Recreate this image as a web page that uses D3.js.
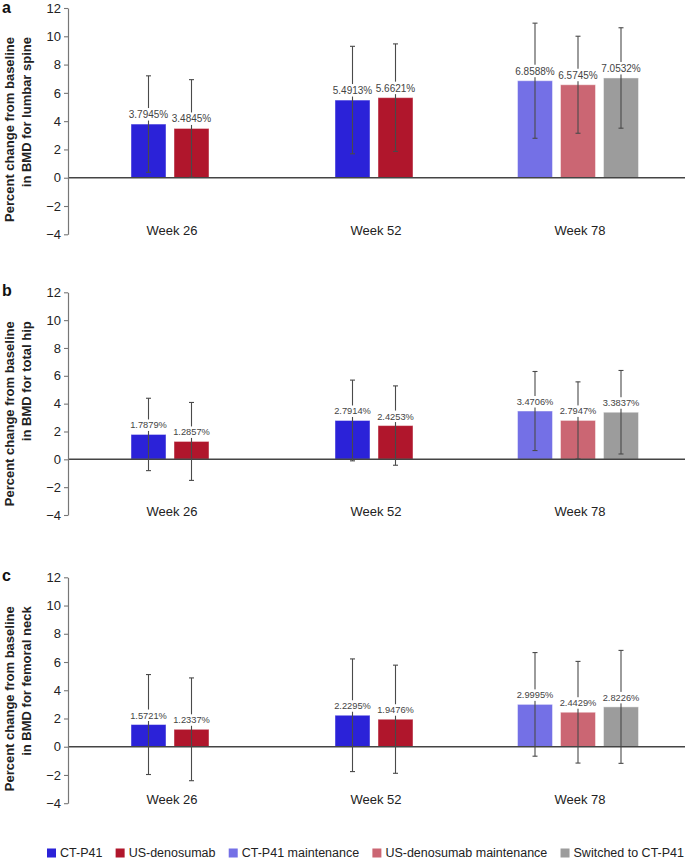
<!DOCTYPE html>
<html><head><meta charset="utf-8">
<script src="https://cdn.jsdelivr.net/npm/d3@7"></script>
<style>
html,body{margin:0;padding:0;background:#fff;}
svg{display:block;font-family:"Liberation Sans",Arial,sans-serif;}
</style></head>
<body>
<svg id="chart" width="685" height="859"></svg>
<script>
const weeks = ["Week 26", "Week 52", "Week 78"];
const seriesNames = ["CT-P41", "US-denosumab", "CT-P41 maintenance", "US-denosumab maintenance", "Switched to CT-P41"];
const seriesColors = ["#2b22d8", "#b0162c", "#7470e6", "#cb6673", "#9c9c9c"];
const barWeek = ["Week 26", "Week 26", "Week 52", "Week 52", "Week 78", "Week 78", "Week 78"];
const barSeries = [0, 1, 0, 1, 2, 3, 4];
const lumbarMean = [3.7945, 3.4845, 5.4913, 5.6621, 6.8588, 6.5745, 7.0532];
const lumbarSD = [3.41, 3.45, 3.80, 3.80, 4.07, 3.43, 3.55];
const hipMean = [1.7879, 1.2857, 2.7914, 2.4253, 3.4706, 2.7947, 3.3837];
const hipSD = [2.60, 2.80, 2.90, 2.85, 2.84, 2.77, 3.00];
const neckMean = [1.5721, 1.2337, 2.2295, 1.9476, 2.9995, 2.4429, 2.8226];
const neckSD = [3.54, 3.64, 3.99, 3.83, 3.67, 3.60, 4.00];
const yTicks = [-4, -2, 0, 2, 4, 6, 8, 10, 12];
const panelLetters = ["a", "b", "c"];
const titleLine1 = "Percent change from baseline";
const titleLine2 = ["in BMD for lumbar spine", "in BMD for total hip", "in BMD for femoral neck"];

const panels = [
  {mean: lumbarMean, sd: lumbarSD, top: 8, bottom: 234.3, labelSize: 10},
  {mean: hipMean, sd: hipSD, top: 292.3, bottom: 515, labelSize: 9.3},
  {mean: neckMean, sd: neckSD, top: 577.3, bottom: 803.2, labelSize: 9.3}
];

const svg = d3.select("#chart");
const axisX = 68, rightX = 682;
const x = d3.scaleBand().domain(weeks).range([70, rightX]);
const barW = 35, barStep = 43;

panels.forEach((p, pi) => {
  const y = d3.scaleLinear().domain([-4, 12]).range([p.bottom, p.top]);
  const g = svg.append("g");

  const bars = p.mean.map((m, i) => {
    const wk = barWeek[i];
    const idxs = barWeek.map((w, j) => w === wk ? j : -1).filter(j => j >= 0);
    const k = idxs.indexOf(i), n = idxs.length;
    const cx = x(wk) + x.bandwidth() / 2 - 2 + (k - (n - 1) / 2) * barStep;
    return {m, sd: p.sd[i], cx, s: barSeries[i]};
  });

  g.selectAll("rect.bar").data(bars).join("rect")
    .attr("class", "bar")
    .attr("x", d => d.cx - barW / 2)
    .attr("width", barW)
    .attr("y", d => y(Math.max(0, d.m)))
    .attr("height", d => Math.abs(y(d.m) - y(0)))
    .attr("fill", d => seriesColors[d.s])
    .attr("stroke", "#ffffff").attr("stroke-opacity", 0.45).attr("stroke-width", 1);

  g.append("line").attr("x1", axisX).attr("x2", rightX + 3)
    .attr("y1", y(0)).attr("y2", y(0))
    .attr("stroke", "#444").attr("stroke-width", 1.5);

  const eb = g.selectAll("g.eb").data(bars).join("g").attr("class", "eb")
    .attr("stroke", "#4a4a4a").attr("stroke-width", 1.1);
  eb.append("line").attr("x1", d => d.cx).attr("x2", d => d.cx)
    .attr("y1", d => y(d.m + d.sd)).attr("y2", d => y(d.m - d.sd));
  eb.append("line").attr("x1", d => d.cx - 2.5).attr("x2", d => d.cx + 2.5)
    .attr("y1", d => y(d.m + d.sd)).attr("y2", d => y(d.m + d.sd));
  eb.append("line").attr("x1", d => d.cx - 2.5).attr("x2", d => d.cx + 2.5)
    .attr("y1", d => y(d.m - d.sd)).attr("y2", d => y(d.m - d.sd));

  const lab = g.selectAll("g.lab").data(bars).join("g").attr("class", "lab");
  const txt = lab.append("text")
    .attr("x", d => d.cx).attr("y", d => y(d.m) - 6)
    .attr("text-anchor", "middle")
    .attr("font-size", p.labelSize).attr("fill", "#444")
    .text(d => d3.format(".4f")(d.m) + "%");
  txt.each(function() {
    const b = this.getBBox();
    d3.select(this.parentNode).insert("rect", "text")
      .attr("x", b.x - 0.5).attr("y", b.y - 1)
      .attr("width", b.width + 1).attr("height", b.height + 1.5)
      .attr("fill", "#fff");
  });

  const ax = g.append("g").attr("transform", `translate(${axisX},0)`)
    .call(d3.axisLeft(y).tickValues(yTicks).tickSize(4).tickSizeOuter(0).tickPadding(3));
  ax.select(".domain").attr("stroke", "#777").attr("stroke-width", 1.2);
  ax.selectAll(".tick line").attr("stroke", "#777").attr("stroke-width", 1.1);
  ax.selectAll(".tick text").attr("font-size", 13).attr("fill", "#222")
    .attr("font-family", "Liberation Sans, Arial, sans-serif");

  g.selectAll("text.cat").data(weeks).join("text").attr("class", "cat")
    .attr("x", d => x(d) + x.bandwidth() / 2)
    .attr("y", p.bottom + 1)
    .attr("text-anchor", "middle").attr("font-size", 13).attr("fill", "#222")
    .text(d => d);

  const ty = p.top + 29;
  g.append("text").attr("transform", `translate(14,${ty}) rotate(-90)`)
    .attr("text-anchor", "end").attr("font-size", 13).attr("font-weight", "bold").attr("fill", "#222")
    .text(titleLine1);
  g.append("text").attr("transform", `translate(30.5,${ty}) rotate(-90)`)
    .attr("text-anchor", "end").attr("font-size", 13).attr("font-weight", "bold").attr("fill", "#222")
    .text(titleLine2[pi]);

  g.append("text").attr("x", 2).attr("y", Math.max(p.top + 3.5, 13))
    .attr("font-size", 16).attr("font-weight", "bold").attr("fill", "#111")
    .text(panelLetters[pi]);
});

// legend
const leg = svg.append("g");
const legY = 853, sq = 9, sqGap = 4, startX = 47, endX = 684;
const items = leg.selectAll("g").data(seriesNames).join("g");
items.append("rect").attr("width", sq).attr("height", sq).attr("y", legY - sq / 2)
  .attr("fill", (d, i) => seriesColors[i]);
const ltxt = items.append("text").attr("x", sq + sqGap).attr("y", legY + 4.4)
  .attr("font-size", 12.5).attr("fill", "#222").text(d => d);
const widths = [];
ltxt.each(function() { widths.push(this.getComputedTextLength()); });
const total = d3.sum(widths) + seriesNames.length * (sq + sqGap);
const gap = (endX - startX - total) / (seriesNames.length - 1);
let cur = startX;
items.attr("transform", (d, i) => { const t = `translate(${cur},0)`; cur += sq + sqGap + widths[i] + gap; return t; });
</script>
</body></html>
